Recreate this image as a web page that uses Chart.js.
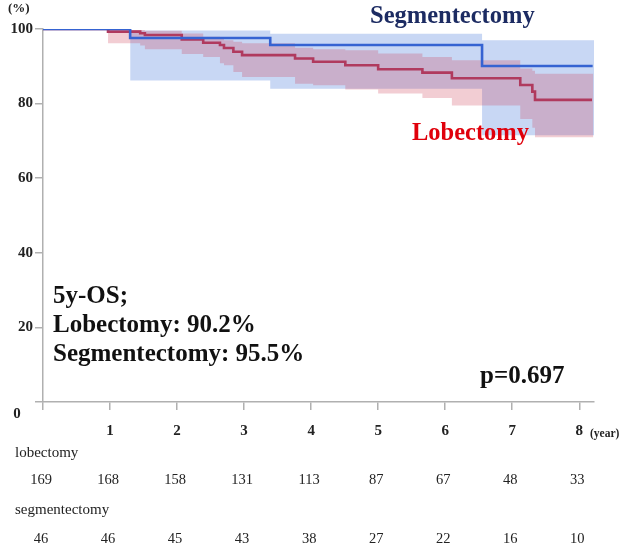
<!DOCTYPE html>
<html>
<head>
<meta charset="utf-8">
<script src="https://cdn.jsdelivr.net/npm/chart.js@4.4.0/dist/chart.umd.min.js"></script>
<style>
  html, body { margin: 0; padding: 0; background: #fff; }
  #kmChart { display: block; }
</style>
</head>
<body>
<canvas id="kmChart" width="625" height="548"></canvas>
<script>
// Kaplan-Meier overall survival
var yearTicks = [1, 2, 3, 4, 5, 6, 7, 8];
var yTicks = [0, 20, 40, 60, 80, 100];

var segTimes = [0, 1.30, 3.39, 6.55, 8.20];
var segSurv = [100, 97.6, 95.7, 90.1, 90.1];

var lobTimes = [0, 0.97, 1.45, 1.52, 2.07, 2.39, 2.64, 2.70, 2.84, 2.97, 3.76, 4.03, 4.51, 5.00, 5.66, 6.10, 7.12, 7.30, 7.34, 8.19];
var lobSurv = [100, 99.3, 98.85, 98.4, 97.2, 96.3, 95.7, 94.9, 93.9, 93.0, 92.1, 91.2, 90.3, 89.2, 88.3, 86.8, 85.0, 83.2, 81.0, 81.0];

// 95% CI bands
var segBandTimes = [1.30, 3.39, 6.55, 8.22];
var segUpper = [99.6, 98.7, 97.0, 97.0];
var segLower = [86.2, 84.0, 71.5, 71.5];

var lobBandTimes = [0.97, 1.45, 1.52, 2.07, 2.39, 2.64, 2.70, 2.84, 2.97, 3.76, 4.03, 4.51, 5.00, 5.66, 6.10, 7.12, 7.30, 7.34, 8.21];
var lobUpper = [99.7, 99.7, 99.5, 98.8, 97.9, 97.4, 97.0, 96.6, 96.2, 95.0, 94.6, 94.3, 93.4, 92.5, 91.6, 89.4, 88.8, 88.0, 88.0];
var lobLower = [96.2, 95.6, 94.6, 93.3, 92.5, 90.8, 90.3, 88.5, 87.1, 85.3, 84.9, 83.8, 82.7, 81.5, 79.5, 75.9, 73.5, 71.0, 71.0];

// number at risk
var riskYears = [0, 1, 2, 3, 4, 5, 6, 7, 8];
var atRiskLob = [169, 168, 158, 131, 113, 87, 67, 48, 33];
var atRiskSeg = [46, 46, 45, 43, 38, 27, 22, 16, 10];

var serif = "'Liberation Serif', 'Times New Roman', serif";

function toPoints(xs, ys) {
    return xs.map(function (x, i) { return { x: x, y: ys[i] }; });
}

function stepLine(label, xs, ys, color) {
    return {
        label: label,
        data: toPoints(xs, ys),
        borderColor: color,
        borderWidth: 2.6,
        pointRadius: 0,
        stepped: true,
        fill: false
    };
}

function band(xs, ys, fill, color) {
    return {
        data: toPoints(xs, ys),
        borderWidth: 0,
        borderColor: 'rgba(0,0,0,0)',
        backgroundColor: color,
        pointRadius: 0,
        stepped: true,
        fill: fill
    };
}

var pinkBand = 'rgba(205, 55, 80, 0.25)';
var blueBand = 'rgba(110, 150, 225, 0.38)';

// texts and at-risk table
var annotations = {
    id: 'annotations',
    afterDraw: function (chart) {
        var c = chart.ctx;
        var xs = chart.scales.x;
        c.save();
        c.textBaseline = 'middle';

        c.fillStyle = '#222';
        c.textAlign = 'left';
        c.font = 'bold 13px ' + serif;
        c.fillText('(%)', 8, 9);
        c.font = 'bold 15px ' + serif;
        c.textAlign = 'center';
        c.fillText('0', 17, 414);
        c.textAlign = 'left';
        c.font = 'bold 11.5px ' + serif;
        c.fillText('(year)', 590, 434);

        c.font = 'bold 24.5px ' + serif;
        c.fillStyle = '#1c2b62';
        c.fillText('Segmentectomy', 370, 17);
        c.fillStyle = '#e0000b';
        c.fillText('Lobectomy', 412, 134);

        c.fillStyle = '#111';
        c.font = 'bold 25px ' + serif;
        c.fillText('5y-OS;', 53, 297);
        c.fillText('Lobectomy: 90.2%', 53, 326);
        c.fillText('Segmentectomy: 95.5%', 53, 355);
        c.fillText('p=0.697', 480, 377);

        c.fillStyle = '#222';
        c.font = '15px ' + serif;
        c.fillText('lobectomy', 15, 453);
        c.fillText('segmentectomy', 15, 510);
        c.font = '14.5px ' + serif;
        c.textAlign = 'center';
        riskYears.forEach(function (yr, i) {
            var px = xs.getPixelForValue(yr) - 2;
            c.fillText(String(atRiskLob[i]), px, 480);
            c.fillText(String(atRiskSeg[i]), px, 539);
        });
        c.restore();
    }
};

new Chart(document.getElementById('kmChart'), {
    type: 'line',
    data: {
        datasets: [
            stepLine('Segmentectomy', segTimes, segSurv, '#3563d2'),
            stepLine('Lobectomy', lobTimes, lobSurv, '#b03a5e'),
            band(lobBandTimes, lobUpper, '+1', pinkBand),
            band(lobBandTimes, lobLower, false, pinkBand),
            band(segBandTimes, segUpper, '+1', blueBand),
            band(segBandTimes, segLower, false, blueBand)
        ]
    },
    options: {
        responsive: false,
        animation: false,
        layout: {
            padding: { top: 29, right: 31, left: 0, bottom: 0 }
        },
        plugins: {
            legend: { display: false },
            tooltip: { enabled: false }
        },
        scales: {
            x: {
                type: 'linear',
                min: 0,
                max: 8.22,
                afterFit: function (scale) { scale.height = 146; },
                afterBuildTicks: function (scale) {
                    scale.ticks = [0].concat(yearTicks).map(function (v) { return { value: v }; });
                },
                ticks: {
                    color: '#222',
                    padding: 12,
                    maxRotation: 0,
                    font: { size: 15, weight: 'bold', family: serif },
                    callback: function (value) { return value === 0 ? '' : String(value); }
                },
                grid: {
                    drawOnChartArea: false,
                    tickLength: 8,
                    color: '#b0b0b0',
                    lineWidth: 1.5
                },
                border: { color: '#b0b0b0', width: 1.5 }
            },
            y: {
                min: 0,
                max: 100,
                afterFit: function (scale) { scale.width = 43; },
                afterBuildTicks: function (scale) {
                    scale.ticks = yTicks.map(function (v) { return { value: v }; });
                },
                ticks: {
                    color: '#222',
                    padding: 2,
                    font: { size: 15, weight: 'bold', family: serif },
                    callback: function (value) { return value === 0 ? '' : String(value); }
                },
                grid: {
                    drawOnChartArea: false,
                    tickLength: 8,
                    color: '#b0b0b0',
                    lineWidth: 1.5
                },
                border: { color: '#b0b0b0', width: 1.5 }
            }
        }
    },
    plugins: [annotations]
});
</script>
</body>
</html>
